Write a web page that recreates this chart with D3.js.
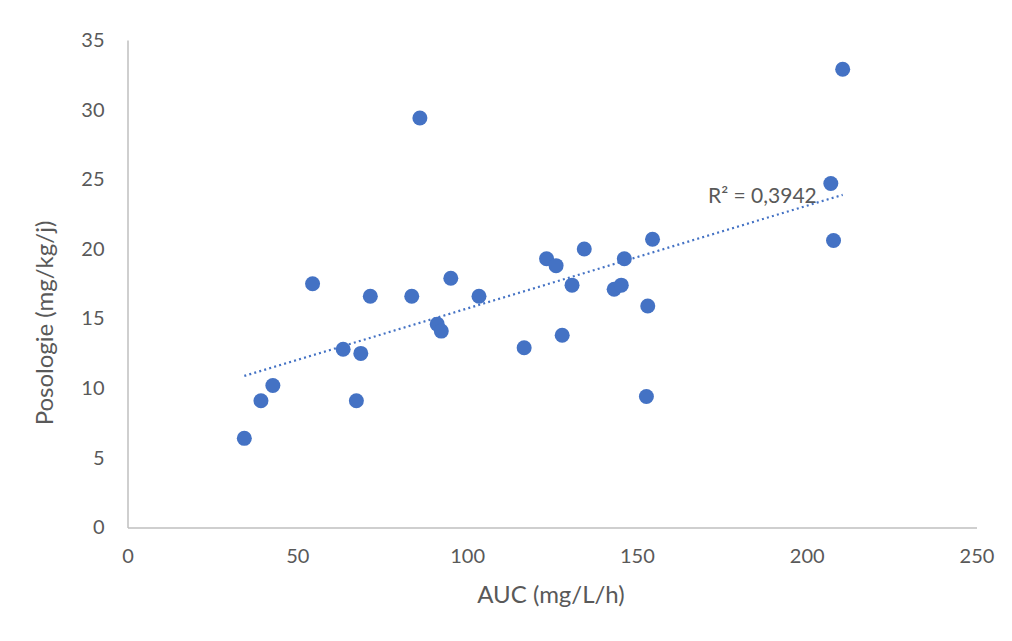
<!DOCTYPE html>
<html>
<head>
<meta charset="utf-8">
<script src="https://cdn.jsdelivr.net/npm/d3@7"></script>
<style>
  html, body { margin: 0; padding: 0; background: #fff; }
  svg { display: block; }
  text { font-family: Lato, "Open Sans", sans-serif; fill: #595959; }
</style>
</head>
<body>
<svg id="chart" width="1012" height="641"></svg>
<script>
const auc = [34.4, 39.3, 42.8, 54.5, 63.5, 67.4, 68.7, 71.5, 83.7, 86.1, 91.2, 92.4, 95.2, 103.5, 116.8, 123.4, 126.2, 128.0, 130.9, 134.5, 143.3, 145.4, 146.3, 152.8, 153.2, 154.6, 207.1, 207.9, 210.6];
const posologie = [6.4, 9.1, 10.2, 17.5, 12.8, 9.1, 12.5, 16.6, 16.6, 29.4, 14.6, 14.1, 17.9, 16.6, 12.9, 19.3, 18.8, 13.8, 17.4, 20.0, 17.1, 17.4, 19.3, 9.4, 15.9, 20.7, 24.7, 20.6, 32.9];
const xTicks = [0, 50, 100, 150, 200, 250];
const yTicks = [0, 5, 10, 15, 20, 25, 30, 35];
const xTitle = "AUC (mg/L/h)";
const yTitle = "Posologie (mg/kg/j)";
const r2Label = "R² = 0,3942";

const svg = d3.select("#chart");
const L = 127.5, R = 976.5, T = 40, B = 527.5;
const x = d3.scaleLinear().domain([0, 250]).range([L, R]);
const y = d3.scaleLinear().domain([0, 35]).range([B, T]);

const blue = "#4472C4";

// axes
const xAxis = d3.axisBottom(x).tickValues(xTicks).tickSize(0).tickPadding(21);
const gx = svg.append("g").attr("transform", `translate(0,${B})`).call(xAxis);
gx.select(".domain").attr("stroke", "#BFBFBF").attr("stroke-width", 1.5);
gx.selectAll("text").style("font-size", "20px").attr("fill", "#595959");

const yAxis = d3.axisLeft(y).tickValues(yTicks).tickSize(0).tickPadding(23);
const gy = svg.append("g").attr("transform", `translate(${L},0)`).call(yAxis);
gy.select(".domain").attr("stroke", "#BFBFBF").attr("stroke-width", 1.5);
gy.selectAll("text").style("font-size", "20px").attr("fill", "#595959");

// trendline (least squares)
const n = auc.length;
const mx = d3.mean(auc), my = d3.mean(posologie);
let sxy = 0, sxx = 0;
for (let i = 0; i < n; i++) { sxy += (auc[i]-mx)*(posologie[i]-my); sxx += (auc[i]-mx)**2; }
const slope = sxy / sxx, icpt = my - slope * mx;
const x0 = d3.min(auc), x1 = d3.max(auc);
svg.append("line")
  .attr("x1", x(x0)).attr("y1", y(icpt + slope * x0))
  .attr("x2", x(x1)).attr("y2", y(icpt + slope * x1))
  .attr("stroke", blue).attr("stroke-width", 2.2)
  .attr("stroke-dasharray", "2,3.2");

// points
svg.append("g").selectAll("circle")
  .data(auc.map((v, i) => [v, posologie[i]]))
  .join("circle")
  .attr("cx", d => x(d[0])).attr("cy", d => y(d[1]))
  .attr("r", 7.5).attr("fill", blue);

// R2 label
svg.append("text").attr("x", 708).attr("y", 203)
  .style("font-size", "21px").text(r2Label);

// titles
svg.append("text").attr("x", 551).attr("y", 603).attr("text-anchor", "middle")
  .style("font-size", "24px").text(xTitle);
svg.append("text").attr("transform", "translate(53,323) rotate(-90)")
  .attr("text-anchor", "middle").style("font-size", "24px").text(yTitle);
</script>
</body>
</html>
